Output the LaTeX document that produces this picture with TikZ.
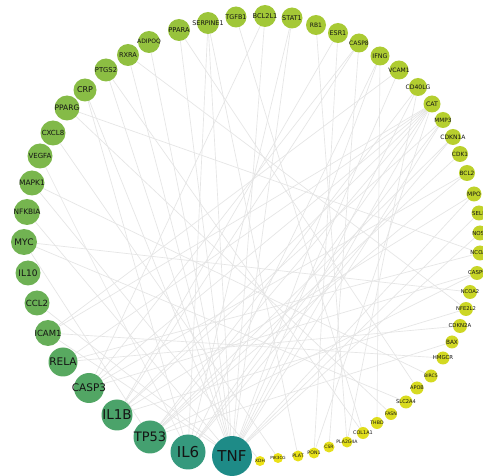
\documentclass[tikz,border=0pt]{standalone}
\usepackage{fontspec}
\setmainfont{DejaVu Sans}
\pgfdeclarelayer{background}
\pgfsetlayers{background,main}
\definecolor{c0}{HTML}{1E8B87}
\definecolor{c1}{HTML}{35997D}
\definecolor{c2}{HTML}{44A070}
\definecolor{c3}{HTML}{4BA36A}
\definecolor{c4}{HTML}{52A664}
\definecolor{c5}{HTML}{58A960}
\definecolor{gA}{HTML}{66AE58}
\definecolor{gB}{HTML}{9CC53A}
\definecolor{gC}{HTML}{A0C738}
\definecolor{gD}{HTML}{EDE216}
\tikzset{
  gn/.style={circle, inner sep=0pt, draw=none},
  lab/.style={text=black!92, inner sep=0pt},
  edge/.style={draw=black!10, line width=0.65pt}
}
\newcommand{\gn}[7]{\node[gn, minimum size=#4pt, fill=#5, label={[lab, font=\fontsize{#6}{#6}\selectfont]center:#7}] (#1) at (#2,#3) {};}
\begin{document}
\begin{tikzpicture}[x=1pt,y=-1pt]
\useasboundingbox (0,0) rectangle (483,476);
% nodes
\gn{TNF}{232}{456}{40}{c0}{15}{TNF}
\gn{IL6}{188}{452}{35}{c1}{15}{IL6}
\gn{TP53}{150}{437}{33}{c2}{13}{TP53}
\gn{IL1B}{117}{415}{31}{c3}{13.5}{IL1B}
\gn{CASP3}{89}{388}{30}{c4}{10.5}{CASP3}
\gn{RELA}{63}{362}{29}{c5}{10.5}{RELA}
\gn{ICAM1}{48}{333}{26}{gB!0!gA}{8.5}{ICAM1}
\gn{CCL2}{37}{303}{25}{gB!7!gA}{8.5}{CCL2}
\gn{IL10}{28}{273}{25}{gB!14!gA}{9}{IL10}
\gn{MYC}{24}{242}{26}{gB!21!gA}{9}{MYC}
\gn{NFKBIA}{27}{212}{26}{gB!29!gA}{7.4}{NFKBIA}
\gn{MAPK1}{32}{183}{25}{gB!36!gA}{7.5}{MAPK1}
\gn{VEGFA}{40}{156}{25}{gB!43!gA}{7}{VEGFA}
\gn{CXCL8}{53}{133}{25}{gB!50!gA}{7}{CXCL8}
\gn{PPARG}{67}{108}{25}{gB!57!gA}{7.5}{PPARG}
\gn{CRP}{85}{90}{23}{gB!64!gA}{8}{CRP}
\gn{PTGS2}{106}{70}{23}{gB!71!gA}{6.8}{PTGS2}
\gn{RXRA}{128}{55}{22}{gB!79!gA}{6.6}{RXRA}
\gn{ADIPOQ}{149}{42}{22}{gB!86!gA}{6}{ADIPOQ}
\gn{PPARA}{179}{30}{22}{gB!93!gA}{6.7}{PPARA}
\gn{SERPINE1}{208}{23}{22}{gB}{6.4}{SERPINE1}
\gn{TGFB1}{236}{17}{21}{gC}{6.4}{TGFB1}
\gn{BCL2L1}{265}{16}{22}{gD!3!gC}{6.6}{BCL2L1}
\gn{STAT1}{292}{18}{21}{gD!6!gC}{6.5}{STAT1}
\gn{RB1}{316}{25}{20}{gD!9!gC}{6}{RB1}
\gn{ESR1}{338}{33}{20}{gD!11!gC}{6.4}{ESR1}
\gn{CASP8}{359}{43}{19}{gD!14!gC}{6}{CASP8}
\gn{IFNG}{380}{56}{19}{gD!17!gC}{6.3}{IFNG}
\gn{VCAM1}{399}{70}{19}{gD!20!gC}{6}{VCAM1}
\gn{CD40LG}{418}{87}{18}{gD!23!gC}{6.1}{CD40LG}
\gn{CAT}{432}{104}{17}{gD!26!gC}{6.2}{CAT}
\gn{MMP3}{443}{120}{16}{gD!29!gC}{5.8}{MMP3}
\gn{CDKN1A}{453}{137}{16}{gD!31!gC}{6}{CDKN1A}
\gn{CDK1}{460}{154}{16}{gD!34!gC}{5.8}{CDK1}
\gn{BCL2}{467}{173}{16}{gD!37!gC}{5.8}{BCL2}
\gn{MPO}{474}{194}{15}{gD!40!gC}{6}{MPO}
\gn{SELE}{479}{213}{15}{gD!43!gC}{5.5}{SELE}
\gn{NOS3}{480}{233}{15}{gD!46!gC}{5.5}{NOS3}
\gn{NCOA1}{480}{253}{15}{gD!49!gC}{5.4}{NCOA1}
\gn{CASP9}{477}{273}{14}{gD!51!gC}{5.4}{CASP9}
\gn{NCOA2}{470}{292}{14}{gD!54!gC}{5.2}{NCOA2}
\gn{NFE2L2}{466}{309}{14}{gD!57!gC}{5.2}{NFE2L2}
\gn{CDKN2A}{460}{326}{14}{gD!60!gC}{5.4}{CDKN2A}
\gn{BAX}{452}{342}{13}{gD!63!gC}{5.8}{BAX}
\gn{HMGCR}{443}{358}{13}{gD!66!gC}{5.4}{HMGCR}
\gn{BIRC5}{431}{376}{13}{gD!69!gC}{4.6}{BIRC5}
\gn{APOB}{417}{388}{13}{gD!71!gC}{5}{APOB}
\gn{SLC2A4}{406}{402}{13}{gD!74!gC}{5.1}{SLC2A4}
\gn{FASN}{391}{414}{12}{gD!77!gC}{4.7}{FASN}
\gn{THBD}{377}{423}{12}{gD!80!gC}{4.7}{THBD}
\gn{COL1A1}{363}{433}{12}{gD!83!gC}{4.9}{COL1A1}
\gn{PLA2G4A}{347}{442}{11}{gD!86!gC}{4.6}{PLA2G4A}
\gn{CSR}{329}{447}{11}{gD!89!gC}{4.5}{CSR}
\gn{PON1}{314}{453}{11}{gD!91!gC}{4.7}{PON1}
\gn{PLAT}{298}{456}{11}{gD!94!gC}{4.7}{PLAT}
\gn{PIK3CG}{278}{458}{10}{gD!97!gC}{4.2}{PIK3CG}
\gn{XDH}{260}{461}{10}{gD}{4.4}{XDH}
% edges
\begin{pgfonlayer}{background}
\fill[white] (0,0) rectangle (483,476);
\foreach \a/\b in {
  TNF/RXRA, TNF/PPARA, TNF/SERPINE1, TNF/BCL2L1, TNF/STAT1, TNF/IFNG,
  TNF/VCAM1, TNF/CAT, TNF/MMP3, TNF/PTGS2, TNF/CRP, TNF/SELE, TNF/NOS3,
  TNF/MPO, TNF/ICAM1, TNF/CCL2, TNF/NFKBIA, TNF/CD40LG, TNF/ADIPOQ,
  IL6/SERPINE1, IL6/CAT, IL6/CRP, IL6/VEGFA, IL6/STAT1, IL6/MMP3, IL6/IFNG, IL6/CDKN1A,
  TP53/BAX, TP53/CDKN1A, TP53/CDK1, TP53/BCL2, TP53/CD40LG, TP53/CAT, TP53/MYC, TP53/CASP9,
  IL1B/ESR1, IL1B/MPO, IL1B/CAT, IL1B/MMP3, IL1B/NFE2L2, IL1B/CASP8,
  CASP3/CAT, CASP3/BCL2, CASP3/CASP9, CASP3/CASP8, CASP3/BCL2L1,
  RELA/CDKN2A, RELA/CAT, RELA/NCOA1,
  ICAM1/HMGCR, ICAM1/CAT, ICAM1/VCAM1,
  MYC/NCOA2, MYC/SLC2A4, MAPK1/BIRC5, PPARG/FASN, PPARG/NCOA1,
  PTGS2/COL1A1, RXRA/NFE2L2, PPARA/APOB, TGFB1/COL1A1, RB1/PLA2G4A,
  XDH/MAPK1, PIK3CG/CXCL8, PLAT/SERPINE1, PON1/ESR1, CSR/CASP8,
  PLA2G4A/CD40LG, THBD/IFNG, CAT/PON1}
  \draw[edge] (\a) -- (\b);
\end{pgfonlayer}
\end{tikzpicture}
\end{document}
